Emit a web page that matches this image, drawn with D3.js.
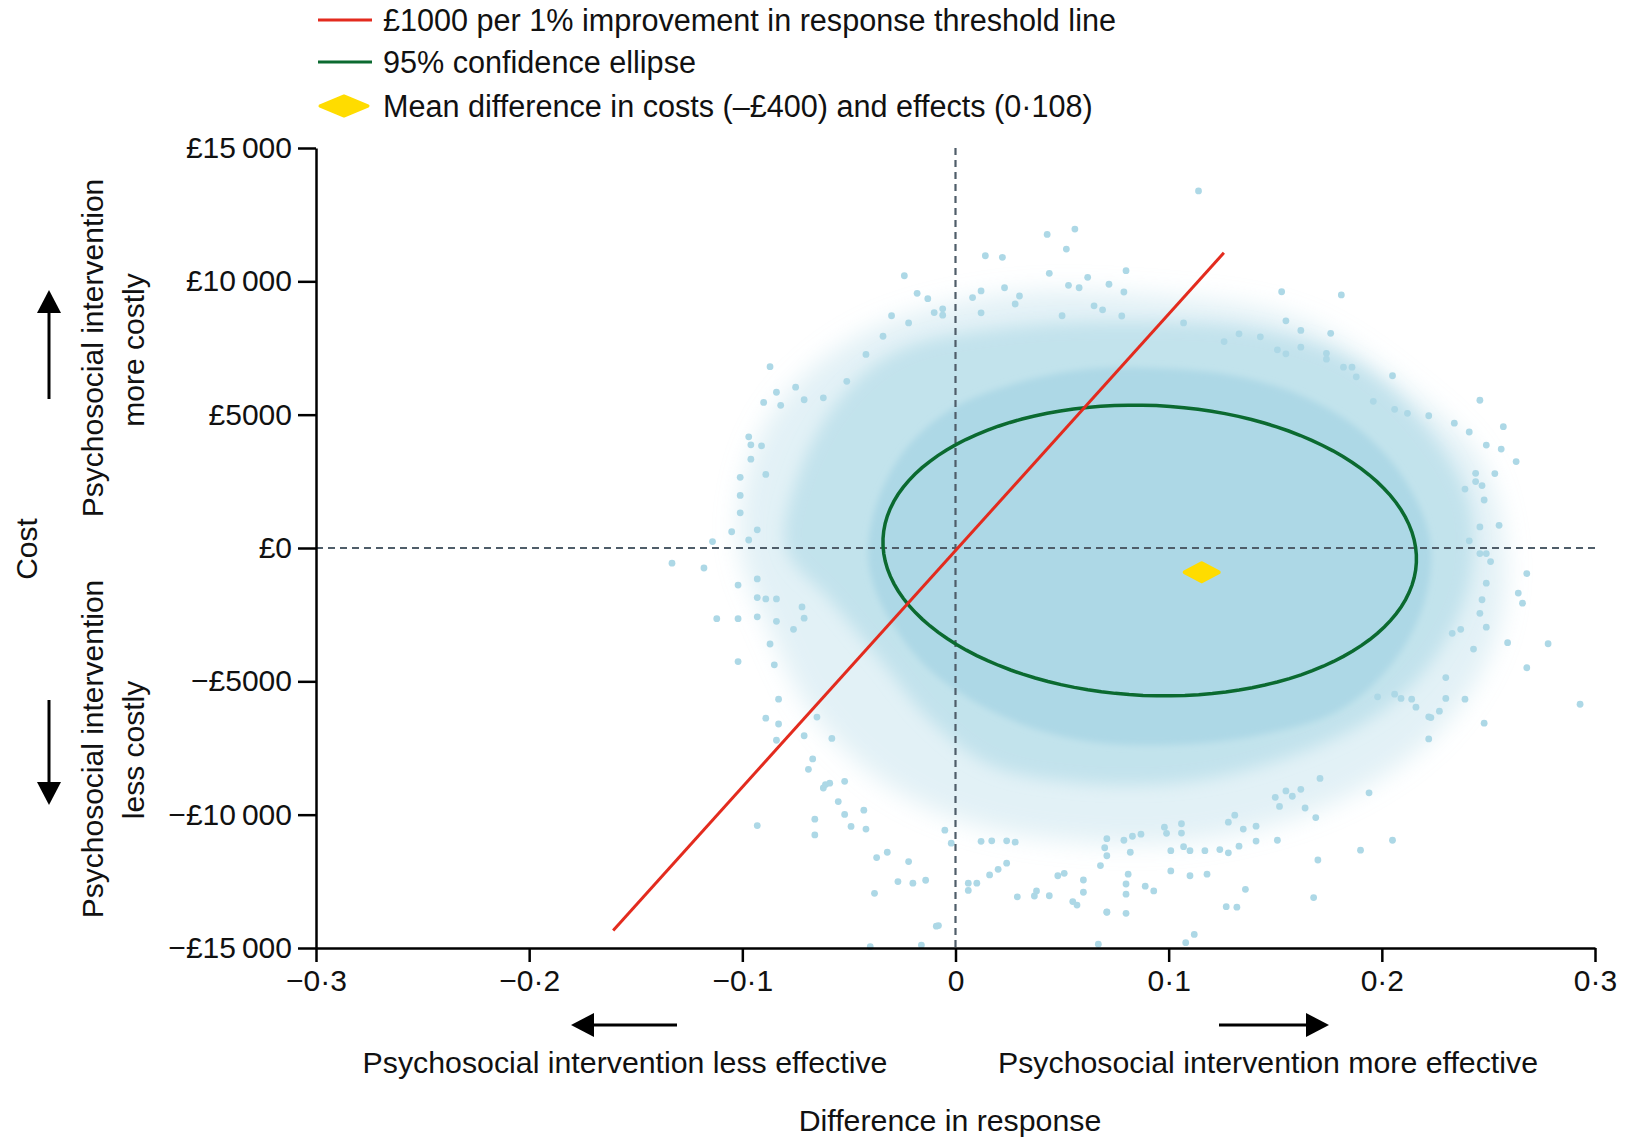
<!DOCTYPE html>
<html>
<head>
<meta charset="utf-8">
<script src="https://cdn.jsdelivr.net/npm/d3@7"></script>
<style>
  body { margin: 0; background: #fff; }
  svg text { font-family: "Liberation Sans", Arial, sans-serif; fill: #111; }
</style>
</head>
<body>
<svg id="chart" width="1633" height="1139"></svg>
<script>
// axis ticks
var xTickValues = [-0.3, -0.2, -0.1, 0, 0.1, 0.2, 0.3];
var xTickLabels = ['\u22120\u00b73', '\u22120\u00b72', '\u22120\u00b71', '0', '0\u00b71', '0\u00b72', '0\u00b73'];
var yTickValues = [15000, 10000, 5000, 0, -5000, -10000, -15000];
var yTickLabels = ['\u00a315\u2009000', '\u00a310\u2009000', '\u00a35000', '\u00a30', '\u2212\u00a35000', '\u2212\u00a310\u2009000', '\u2212\u00a315\u2009000'];

var legendLabels = [
  '\u00a31000 per 1% improvement in response threshold line',
  '95% confidence ellipse',
  'Mean difference in costs (\u2013\u00a3400) and effects (0\u00b7108)'
];

// [difference in response, cost]
var meanPoint = [0.1155, -910];
var thresholdLine = [[-0.1606, -14340], [0.1259, 11070]];
var ellipseCentre = [0.0911, -94];
var ellipseAxisA = [0.1251, -450];
var ellipseAxisB = [0.0031, 5434];

// outline of the bootstrap cloud at three densities
var cloudCore = [[-0.041,0],[-0.0364,1800],[-0.0237,3675],[-0.0026,5175],[0.0256,6113],[0.0584,6675],[0.0912,6750],[0.1288,6488],[0.1616,5738],[0.1897,4425],[0.2108,2550],[0.2226,300],[0.2202,-1950],[0.2061,-4200],[0.1803,-6075],[0.1428,-7013],[0.1006,-7388],[0.0584,-7200],[0.0209,-6263],[-0.012,-4575],[-0.0307,-2700],[-0.0392,-1200]];
var cloudHalo = [[-0.0795,0],[-0.0729,2925],[-0.0528,5738],[-0.026,7425],[0.0223,8250],[0.0819,8475],[0.1419,8175],[0.1864,6975],[0.2179,4800],[0.2404,1800],[0.2413,-1200],[0.2272,-3825],[0.2038,-5888],[0.1709,-7388],[0.1147,-8700],[0.0584,-8813],[0.0162,-8138],[-0.012,-6450],[-0.0354,-4200],[-0.0589,-1950]];
var cloudFringe = [[-0.1011,0],[-0.0964,3300],[-0.0776,5925],[-0.0401,8175],[0.0209,9488],[0.0912,9488],[0.1616,8550],[0.2132,5925],[0.246,3300],[0.2577,0],[0.2531,-3450],[0.2272,-6825],[0.1803,-9450],[0.1147,-10950],[0.049,-10950],[0.0021,-10200],[-0.0354,-8700],[-0.0683,-6075],[-0.0871,-3075]];

// scattered bootstrap replicates outside the dense cloud
var scatterPoints = [
  [0.043,11760],[0.056,11960],[0.052,11210],[0.014,10960],[0.022,10900],[0.044,10300],[0.062,10150],[0.080,10400],[0.053,9850],[0.058,9760],[0.072,9890],[-0.024,10210],[-0.018,9550],[-0.013,9350],[0.023,9760],[0.012,9640],[0.008,9390],[0.030,9450],[0.028,9150],[-0.006,8970],[-0.006,8730],[-0.030,8710],[-0.022,8440],[0.065,9080],[0.069,8930],[0.079,9600],[0.078,8700],[0.050,8710],[0.012,8820],
  [-0.087,6800],[-0.084,5840],[-0.090,5460],[-0.075,6030],[-0.097,4170],[-0.101,2650],[-0.101,1320],[-0.105,610],[-0.114,240],[-0.082,5350],[-0.071,5560],[-0.062,5630],[-0.051,6250],[-0.042,7260],[-0.034,7940],[-0.096,3330],[-0.089,2760],[-0.093,680],[-0.097,300],
  [0.114,13390],[0.153,9610],[0.181,9490],[0.155,8520],[0.162,8160],[0.176,8050],[0.205,6460],[0.246,5540],[0.257,4550],[0.234,4680],[0.222,4960],[0.212,5050],[0.182,6780],[0.186,6780],[0.188,6420],[0.143,7920],[0.133,8030],[0.126,7740],[0.107,8440],[0.174,7300],[0.174,7080],[0.151,7430],[0.155,7280],[0.162,7530],[0.196,5500],[0.206,5200],
  [0.241,4350],[0.249,3860],[0.256,3710],[0.263,3240],[0.253,2790],[0.244,2800],[0.244,2490],[0.247,2340],[0.239,2210],[0.248,1800],[0.255,850],[0.246,790],[0.241,270],[0.246,-210],[0.249,-210],[0.251,-510],[0.268,-960],[0.264,-1690],[0.266,-2070],[0.249,-1320],[0.247,-1940],[0.246,-2450],[0.249,-2970],[0.259,-3550],[0.278,-3590],[0.268,-4490],[0.293,-5860],[0.243,-3790],[0.239,-5670],[0.248,-6570],[0.230,-4860],[0.230,-5640],[0.223,-6360],[0.233,-3200],[0.237,-3050],
  [0.222,-7160],[0.227,-6120],[0.222,-6330],[0.216,-5970],[0.214,-5670],[0.209,-5640],[0.206,-5480],[0.198,-5580],[0.194,-9180],[0.205,-10960],[0.190,-11330],[0.170,-11700],[0.168,-13110],[0.169,-10110],[0.171,-8640],[0.164,-9750],[0.151,-10960],[0.152,-9690],[0.162,-9050],[0.158,-9310],[0.150,-9350],[0.155,-9110],[0.136,-12800],[0.127,-13450],[0.132,-13470],[0.112,-14490],[0.108,-14800],[0.118,-12230],[0.110,-12290],[0.101,-12110],[0.093,-12860],[0.089,-12680],[0.080,-12980],[0.080,-12600],[0.080,-13700],[0.071,-13650],[0.081,-12230],[0.141,-10430],[0.141,-10990],[0.135,-10540],[0.128,-11430],[0.124,-11310],[0.117,-11350],[0.110,-11350],[0.107,-11200],[0.101,-11350],[0.133,-11180],[0.131,-10020],[0.128,-10280],[0.098,-10470],[0.099,-10700],[0.106,-10690],[0.106,-10340],[0.083,-10810],[0.087,-10730],[0.079,-10960],[0.082,-11410],[0.071,-10900],[0.070,-11240],[0.071,-11540],
  [-0.133,-570],[-0.118,-750],[-0.112,-2650],[-0.102,-2650],[-0.102,-4260],[-0.087,-3600],[-0.085,-4380],[-0.083,-5670],[-0.089,-6380],[-0.083,-6600],[-0.084,-7210],[-0.093,-10410],[-0.067,-7910],[-0.071,-7040],[-0.065,-6340],[-0.058,-7140],[-0.066,-10170],[-0.066,-10760],[-0.062,-9000],[-0.059,-8820],[-0.055,-9510],[-0.052,-9990],[-0.049,-10440],[-0.042,-10540],[-0.043,-9830],[-0.037,-11610],[-0.032,-11410],[-0.038,-12950],[-0.027,-12510],[-0.020,-12570],[-0.014,-12460],[-0.022,-11760],[-0.008,-14160],[-0.016,-14890],[0.006,-12570],[0.010,-12570],[0.006,-12840],[0.020,-12050],[0.024,-11820],[0.029,-13080],[0.037,-13050],[0.038,-12860],[0.044,-13040],[0.048,-12290],[0.051,-12200],[0.055,-13260],[0.057,-13390],[0.060,-12910],[0.060,-12450],[0.067,-14860],[0.071,-13660],[0.068,-11910],[0.012,-11000],[0.017,-10980],[0.024,-10980],[0.028,-11030],[-0.002,-11070],[-0.005,-10580],[-0.040,-14950],
  [-0.093,-2580],[-0.084,-2750],[-0.076,-3050],[-0.102,-1390],[-0.093,-1160],[-0.093,-1860],[-0.089,-1910],[-0.084,-1910],[-0.072,-2210],[-0.071,-2630],
  [-0.010,8830],[-0.096,3870],[-0.091,3830],[-0.101,1970],[-0.061,-8870],[-0.069,-8300],[-0.052,-8750],[0.016,-12260],[-0.009,-14180]
];

var svg = d3.select('#chart');

var x = d3.scaleLinear().domain([-0.3, 0.3]).range([316, 1595]);
var y = d3.scaleLinear().domain([-15000, 15000]).range([948, 148]);

var blue = '#add8e6',
    red = '#e32b1e',
    green = '#0b6a30',
    yellow = '#ffdc00',
    dashGrey = '#4f5d69';

var defs = svg.append('defs');
[['blur-core', 3], ['blur-halo', 8], ['blur-fringe', 12]].forEach(function(f) {
  defs.append('filter')
    .attr('id', f[0])
    .attr('x', '-20%').attr('y', '-20%')
    .attr('width', '140%').attr('height', '140%')
    .append('feGaussianBlur')
    .attr('stdDeviation', f[1]);
});

// cloud of bootstrap replicates
var cloudLine = d3.line()
  .x(function(d) { return x(d[0]); })
  .y(function(d) { return y(d[1]); })
  .curve(d3.curveCatmullRomClosed);

var cloudLayers = [
  { data: cloudFringe, opacity: 0.35, filter: 'blur-fringe' },
  { data: cloudHalo, opacity: 0.6, filter: 'blur-halo' },
  { data: cloudCore, opacity: 1, filter: 'blur-core' }
];

svg.append('g')
  .selectAll('path')
  .data(cloudLayers)
  .enter()
  .append('path')
  .attr('d', function(d) { return cloudLine(d.data); })
  .attr('fill', blue)
  .attr('fill-opacity', function(d) { return d.opacity; })
  .attr('filter', function(d) { return 'url(#' + d.filter + ')'; });

svg.append('g')
  .selectAll('circle')
  .data(scatterPoints)
  .enter()
  .append('circle')
  .attr('cx', function(d) { return x(d[0]); })
  .attr('cy', function(d) { return y(d[1]); })
  .attr('r', 3.4)
  .attr('fill', blue);

// zero reference lines
svg.append('line')
  .attr('x1', x(0)).attr('x2', x(0))
  .attr('y1', y(15000)).attr('y2', y(-15000))
  .attr('stroke', dashGrey).attr('stroke-width', 2.2)
  .attr('stroke-dasharray', '7,5');

svg.append('line')
  .attr('x1', x(-0.3)).attr('x2', x(0.3))
  .attr('y1', y(0)).attr('y2', y(0))
  .attr('stroke', dashGrey).attr('stroke-width', 2.2)
  .attr('stroke-dasharray', '7,5');

// 95% confidence ellipse
var steps = d3.range(0, 2 * Math.PI, Math.PI / 60);
var ellipsePts = steps.map(function(t) {
  return [
    ellipseCentre[0] + Math.cos(t) * ellipseAxisA[0] + Math.sin(t) * ellipseAxisB[0],
    ellipseCentre[1] + Math.cos(t) * ellipseAxisA[1] + Math.sin(t) * ellipseAxisB[1]
  ];
});

svg.append('path')
  .attr('d', d3.line()
    .x(function(d) { return x(d[0]); })
    .y(function(d) { return y(d[1]); })
    .curve(d3.curveLinearClosed)(ellipsePts))
  .attr('fill', 'none')
  .attr('stroke', green)
  .attr('stroke-width', 3.5);

// threshold line
svg.append('line')
  .attr('x1', x(thresholdLine[0][0])).attr('y1', y(thresholdLine[0][1]))
  .attr('x2', x(thresholdLine[1][0])).attr('y2', y(thresholdLine[1][1]))
  .attr('stroke', red).attr('stroke-width', 3);

// mean point
function diamond(cx, cy, w, h) {
  return 'M' + (cx - w / 2) + ',' + cy + 'L' + cx + ',' + (cy - h / 2) +
    'L' + (cx + w / 2) + ',' + cy + 'L' + cx + ',' + (cy + h / 2) + 'Z';
}

svg.append('path')
  .attr('d', diamond(x(meanPoint[0]), y(meanPoint[1]), 34, 18))
  .attr('fill', yellow)
  .attr('stroke', yellow).attr('stroke-width', 4)
  .attr('stroke-linejoin', 'round');

// axes
var yAxis = d3.axisLeft(y)
  .tickValues(yTickValues)
  .tickFormat(function(d, i) { return yTickLabels[i]; })
  .tickSize(18).tickSizeOuter(0).tickPadding(6);

var xAxis = d3.axisBottom(x)
  .tickValues(xTickValues)
  .tickFormat(function(d, i) { return xTickLabels[i]; })
  .tickSize(14).tickSizeOuter(0).tickPadding(8);

var gy = svg.append('g')
  .attr('transform', 'translate(' + x(-0.3) + ',0)')
  .call(yAxis);

var gx = svg.append('g')
  .attr('transform', 'translate(0,' + y(-15000) + ')')
  .call(xAxis);

[gx, gy].forEach(function(g) {
  g.selectAll('path.domain').attr('stroke', '#000').attr('stroke-width', 2.5);
  g.selectAll('.tick line').attr('stroke', '#000').attr('stroke-width', 2.5);
  g.selectAll('.tick text')
    .attr('font-size', 30)
    .attr('font-family', '"Liberation Sans", Arial, sans-serif')
    .attr('fill', '#111');
});

// legend
var legendY = [20, 62, 106];

svg.append('line')
  .attr('x1', 318).attr('x2', 372)
  .attr('y1', legendY[0]).attr('y2', legendY[0])
  .attr('stroke', red).attr('stroke-width', 3);

svg.append('line')
  .attr('x1', 318).attr('x2', 372)
  .attr('y1', legendY[1]).attr('y2', legendY[1])
  .attr('stroke', green).attr('stroke-width', 3);

svg.append('path')
  .attr('d', diamond(344, legendY[2], 48, 20))
  .attr('fill', yellow)
  .attr('stroke', yellow).attr('stroke-width', 3)
  .attr('stroke-linejoin', 'round');

svg.append('g')
  .selectAll('text')
  .data(legendLabels)
  .enter()
  .append('text')
  .attr('x', 383)
  .attr('y', function(d, i) { return legendY[i]; })
  .attr('dy', '0.35em')
  .attr('font-size', 30.6)
  .text(function(d) { return d; });

// axis titles
function vText(cx, cy, txt) {
  svg.append('text')
    .attr('transform', 'translate(' + cx + ',' + cy + ') rotate(-90)')
    .attr('text-anchor', 'middle')
    .attr('dy', '0.35em')
    .attr('font-size', 30)
    .text(txt);
}

vText(26, 549, 'Cost');
vText(92, 348, 'Psychosocial intervention');
vText(133, 350, 'more costly');
vText(92, 749, 'Psychosocial intervention');
vText(133, 750, 'less costly');

function hText(cx, cy, txt) {
  svg.append('text')
    .attr('x', cx).attr('y', cy)
    .attr('text-anchor', 'middle')
    .attr('dy', '0.35em')
    .attr('font-size', 30.3)
    .text(txt);
}

hText(625, 1062, 'Psychosocial intervention less effective');
hText(1268, 1062, 'Psychosocial intervention more effective');
hText(950, 1120, 'Difference in response');

// direction arrows
function arrow(x1, y1, x2, y2) {
  var ang = Math.atan2(y2 - y1, x2 - x1),
      len = 23, half = 12,
      bx = x2 - len * Math.cos(ang), by = y2 - len * Math.sin(ang);
  svg.append('line')
    .attr('x1', x1).attr('y1', y1)
    .attr('x2', bx).attr('y2', by)
    .attr('stroke', '#000').attr('stroke-width', 3);
  svg.append('path')
    .attr('d', 'M' + x2 + ',' + y2 +
      'L' + (bx + half * Math.sin(ang)) + ',' + (by - half * Math.cos(ang)) +
      'L' + (bx - half * Math.sin(ang)) + ',' + (by + half * Math.cos(ang)) + 'Z')
    .attr('fill', '#000');
}

arrow(49, 399, 49, 290);
arrow(49, 700, 49, 805);
arrow(677, 1025, 571, 1025);
arrow(1219, 1025, 1329, 1025);
</script>
</body>
</html>
